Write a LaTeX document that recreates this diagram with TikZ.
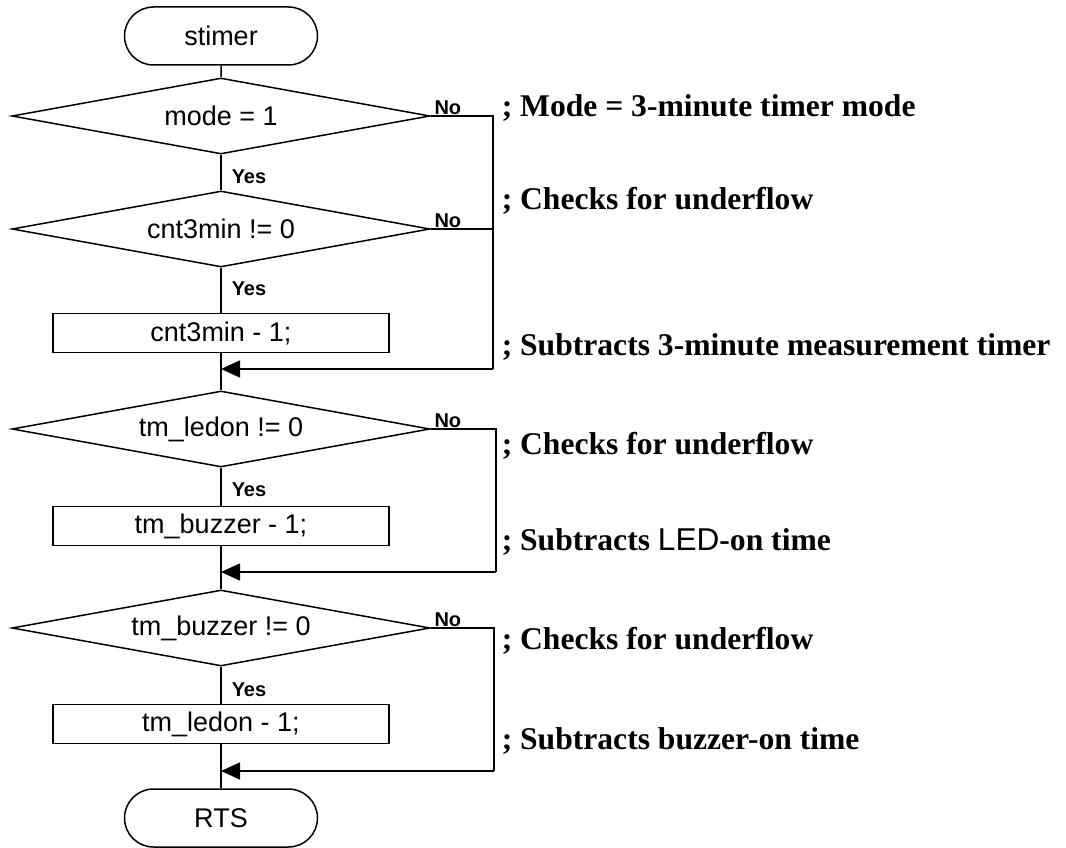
\documentclass[tikz,border=0pt]{standalone}
\usepackage{fontspec}
\setmainfont{Liberation Serif}
\setsansfont{Liberation Sans}
\usepackage{tikz}
\usetikzlibrary{arrows.meta}
\usetikzlibrary{shapes.geometric}
\usetikzlibrary{shapes.misc}
\usetikzlibrary{positioning}
\tikzset{>={Triangle[length=19pt,width=17pt]}}
\newcommand\chartfont{\sffamily\fontsize{27}{32}\selectfont}
\newcommand\markfont{\sffamily\bfseries\fontsize{20}{24}\selectfont}
\newcommand\notefont{\rmfamily\bfseries\fontsize{31.6}{36}\selectfont}
\tikzset{
    terminal/.style={draw, rounded rectangle, minimum width=193pt, minimum height=58pt, inner sep=0pt, font=\chartfont},
    decision/.style={draw, diamond, aspect=5.5, minimum width=418pt, minimum height=76pt, inner sep=0pt, font=\chartfont},
    process/.style={draw, rectangle, minimum width=336pt, minimum height=39pt, inner sep=0pt, font=\chartfont},
    yes/.style={anchor=west, font=\markfont, inner sep=0pt},
    no/.style={anchor=south west, font=\markfont, inner sep=0pt, xshift=3pt, yshift=1pt},
    note/.style={anchor=west, font=\notefont, inner sep=0pt},
}

\begin{document}
\begin{tikzpicture}[x=1pt, y=-1pt, line width=1.5pt]
    \useasboundingbox (0,0) rectangle (1066,848);
    % flow nodes
    \node[terminal] (stimer) at (221,36) {stimer};
    \node[decision] (mode) at (221,116) {mode = 1};
    \node[decision] (cnt) at (221,229) {cnt3min != 0};
    \node[process] (deccnt) at (221,333) {cnt3min - 1;};
    \node[decision] (ledon) at (221,429) {tm\_ledon != 0};
    \node[process] (decbuz) at (221,526) {tm\_buzzer - 1;};
    \node[decision] (buzzer) at (221,628) {tm\_buzzer != 0};
    \node[process] (decled) at (221,724) {tm\_ledon - 1;};
    \node[terminal] (rts) at (221,818) {RTS};
    % join points
    \coordinate (join1) at (221,369);
    \coordinate (turn1) at (493,369);
    \coordinate (join2) at (221,572);
    \coordinate (turn2) at (496,572);
    \coordinate (join3) at (221,771);
    \coordinate (turn3) at (494,771);
    % main line
    \draw (stimer) -- (mode);
    \draw (mode) -- (cnt);
    \draw (cnt) -- (deccnt);
    \draw (deccnt) -- (ledon);
    \draw (ledon) -- (decbuz);
    \draw (decbuz) -- (buzzer);
    \draw (buzzer) -- (decled);
    \draw (decled) -- (rts);
    % No branches
    \draw (mode.east) -| (turn1);
    \draw (cnt.east) -- (cnt.east -| turn1);
    \draw[->] (turn1) -- (join1);
    \draw (ledon.east) -| (turn2);
    \draw[->] (turn2) -- (join2);
    \draw (buzzer.east) -| (turn3);
    \draw[->] (turn3) -- (join3);
    \node[no] at (mode.east) {No};
    \node[no] at (cnt.east) {No};
    \node[no] at (ledon.east) {No};
    \node[no] at (buzzer.east) {No};
    \node[yes] at (231,177) {Yes};
    \node[yes] at (231,289) {Yes};
    \node[yes] at (231,490) {Yes};
    \node[yes] at (231,690) {Yes};
    % comments
    \node[note] (n1) at (501,108) {; Mode = 3-minute timer mode};
    \node[note] (n2) at (501,201) {; Checks for underflow};
    \node[note] (n3) at (501,347) {; Subtracts 3-minute measurement timer};
    \node[note] (n4) at (501,446) {; Checks for underflow};
    \node[note] (n5) at (501,542) {; Subtracts {\sffamily\mdseries LED}-on time};
    \node[note] (n6) at (501,641) {; Checks for underflow};
    \node[note] (n7) at (501,741) {; Subtracts buzzer-on time};
\end{tikzpicture}
\end{document}
